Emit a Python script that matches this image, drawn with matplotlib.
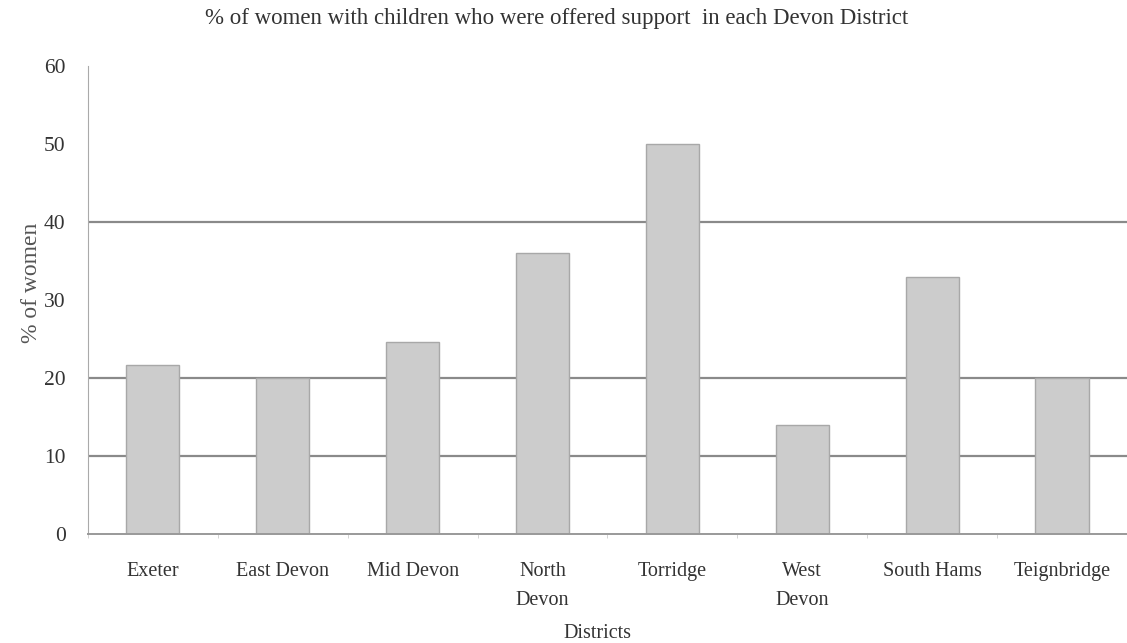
import numpy as np
import matplotlib.pyplot as plt

districts = ['Exeter', 'East Devon', 'Mid Devon', 'North\nDevon', 'Torridge',
             'West\nDevon', 'South Hams', 'Teignbridge']
pct_women = [21.7, 20, 24.6, 36, 50, 14, 33, 20]
y_ticks = [0, 10, 20, 30, 40, 50, 60]
grid_levels = [10, 20, 40]

plt.rcParams['font.family'] = ['Liberation Serif', 'DejaVu Serif']
txt = '#333333'

fig = plt.figure(figsize=(11.27, 6.43), dpi=100)
ax = fig.add_axes([0.078, 0.1695, 0.922, 0.728])

x = np.arange(len(districts))
for g in grid_levels:
    ax.axhline(g, color='#8a8a8a', lw=1.6, zorder=0)
ax.bar(x, pct_women, width=0.41, color='#cccccc', edgecolor='#a8a8a8',
       linewidth=1, zorder=2)

ax.set_xlim(-0.5, 7.4)
ax.set_ylim(0, 60)
ax.set_yticks(y_ticks)
ax.set_xticks(x)
ax.set_xticklabels(districts, fontsize=14.5, color=txt, va='top', linespacing=1.75)
ax.tick_params(axis='x', length=0, pad=20)
ax.tick_params(axis='y', length=0, pad=16, labelsize=15.5, labelcolor=txt)
ax.set_xticks(np.arange(len(districts) + 1) - 0.5, minor=True)
ax.tick_params(axis='x', which='minor', length=3, color='#cccccc')

for s in ['top', 'right']:
    ax.spines[s].set_visible(False)
ax.spines['left'].set_color('#aaaaaa')
ax.spines['bottom'].set_color('#999999')
ax.spines['bottom'].set_linewidth(1.4)

fig.text(0.494, 0.972, '% of women with children who were offered support  in each Devon District',
         ha='center', va='center', fontsize=16.5, color=txt)
fig.text(0.028, 0.56, '% of women', rotation=90, ha='center', va='center',
         fontsize=17, color='#555555')
fig.text(0.53, 0.015, 'Districts', ha='center', va='center', fontsize=14.5, color=txt)

fig.savefig('out.png', dpi=100)
